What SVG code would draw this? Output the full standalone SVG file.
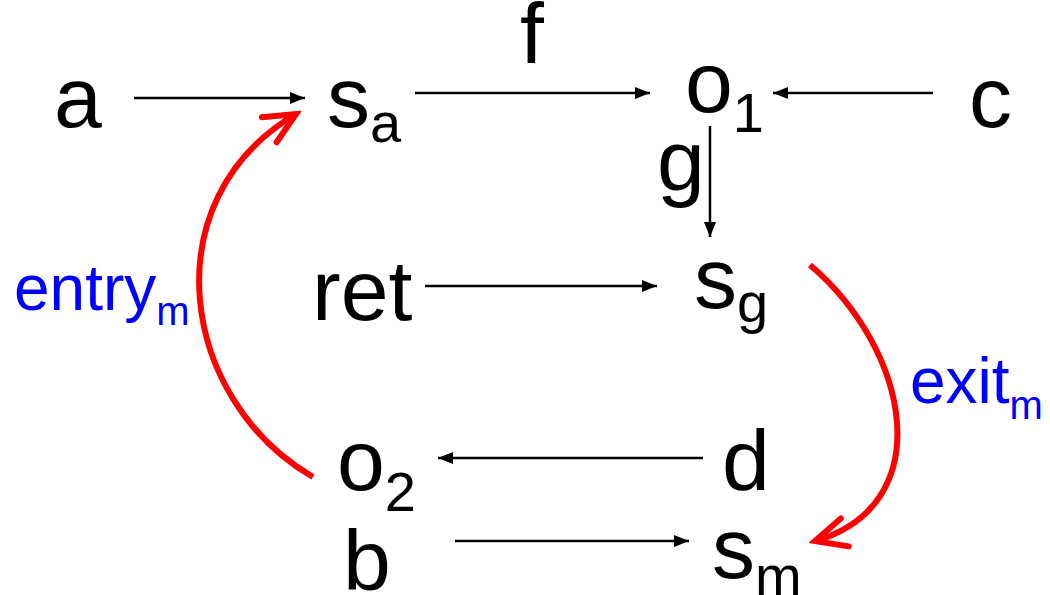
<svg xmlns="http://www.w3.org/2000/svg" width="1050" height="595" viewBox="0 0 1050 595">
<style>
text{font-family:"Liberation Sans",Arial,sans-serif;fill:#000}
.n{font-size:86px}
.s{font-size:56px}
.l{font-size:64px;fill:#0000ff}
.ls{font-size:40px}
.e{stroke:#000;stroke-width:2.5;fill:none;marker-end:url(#ah)}
.r{stroke:#ff0000;stroke-width:6;fill:none;marker-end:url(#rh)}
</style>
<defs>
<marker id="ah" markerUnits="userSpaceOnUse" markerWidth="16" markerHeight="14" refX="15" refY="7" orient="auto" viewBox="0 0 16 14"><path d="M0,1 L15,7 L0,13 z" fill="#000"/></marker>
<marker id="rh" markerUnits="userSpaceOnUse" markerWidth="42" markerHeight="42" refX="36" refY="21" orient="auto" viewBox="0 0 42 42"><path d="M5,6.5 L36,21 L5,35.5" fill="none" stroke="#ff0000" stroke-width="6" stroke-linecap="round" stroke-linejoin="miter"/></marker>
</defs>
<g id="connectors">
<line class="e" x1="134" y1="98" x2="305" y2="98"/>
<line class="e" x1="415" y1="93" x2="650" y2="93"/>
<line class="e" x1="933" y1="93" x2="773" y2="93"/>
<line class="e" x1="710" y1="126" x2="710" y2="237"/>
<line class="e" x1="425" y1="286" x2="657" y2="286"/>
<line class="e" x1="703" y1="458" x2="438" y2="458"/>
<line class="e" x1="455" y1="541" x2="689" y2="541"/>
<path class="r" d="M313,477 C180,400 150,200 296,114"/>
<path class="r" d="M810,265 C910,350 940,505 815,541"/>
</g>
<g id="node-a"><text class="n" x="54" y="127">a</text></g>
<g id="node-sa"><text class="n" x="327" y="127">s<tspan class="s" dy="15">a</tspan></text></g>
<g id="label-f"><text class="n" x="520" y="63" font-size="78">f</text></g>
<g id="node-o1"><text class="n" x="685" y="112">o<tspan class="s" dy="20">1</tspan></text></g>
<g id="node-c"><text class="n" x="969" y="127">c</text></g>
<g id="label-g"><text class="n" x="657" y="190">g</text></g>
<g id="node-ret"><text class="n" x="312" y="320">ret</text></g>
<g id="node-sg"><text class="n" x="694" y="308">s<tspan class="s" dy="14">g</tspan></text></g>
<g id="label-entry"><text class="l" x="14" y="310">entry<tspan class="ls" dy="15">m</tspan></text></g>
<g id="label-exit"><text class="l" x="910" y="403">exit<tspan class="ls" dy="16">m</tspan></text></g>
<g id="node-o2"><text class="n" x="337" y="490">o<tspan class="s" dy="21">2</tspan></text></g>
<g id="node-d"><text class="n" x="722" y="490">d</text></g>
<g id="node-b"><text class="n" x="343" y="590">b</text></g>
<g id="node-sm"><text class="n" x="712" y="578">s<tspan class="s" dy="17">m</tspan></text></g>
</svg>
